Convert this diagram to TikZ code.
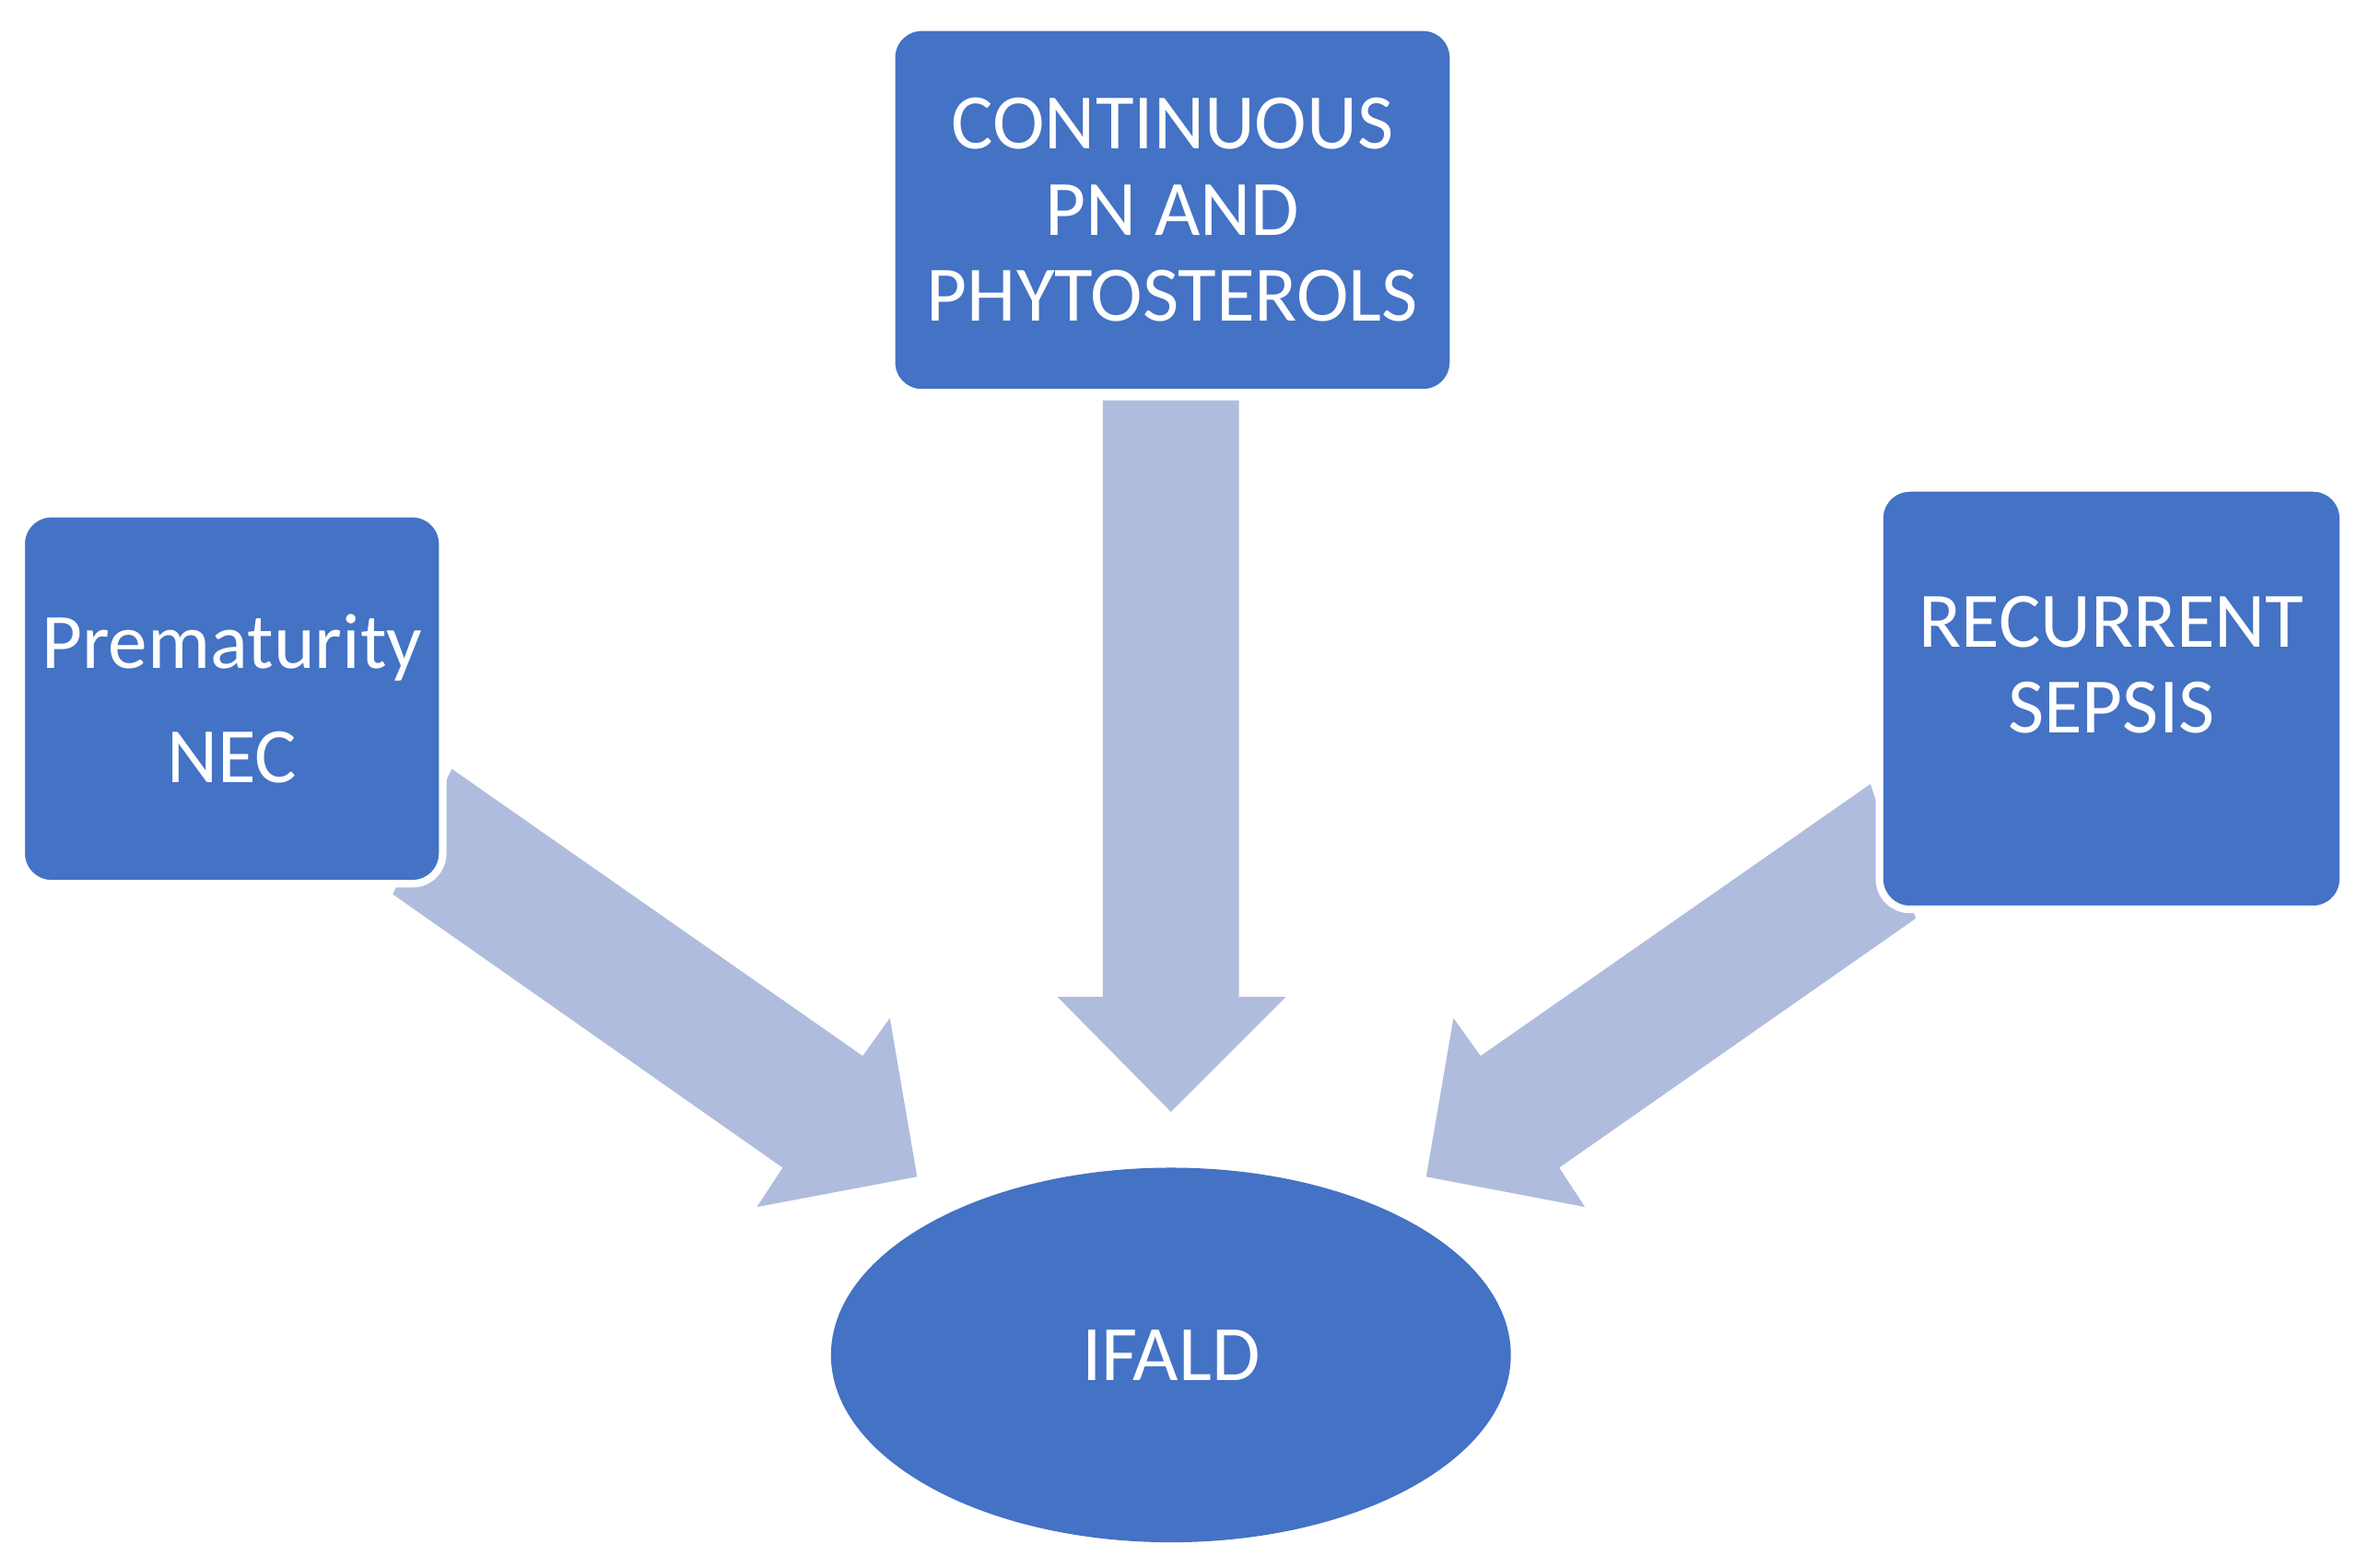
\documentclass[tikz,border=0pt]{standalone}
\usepackage{fontspec}
\setmainfont{Carlito}
\usetikzlibrary{shapes.geometric}
\definecolor{boxblue}{HTML}{4472C4}
\definecolor{arrowblue}{HTML}{B0BCDD}
\begin{document}
\begin{tikzpicture}[x=1pt,y=-1pt,
  box/.style={rectangle,rounded corners=20pt,fill=boxblue,draw=white,line width=5pt,text=white,align=center,font=\fontsize{52}{57}\selectfont},
  arr/.style={fill=arrowblue,draw=none}]
\useasboundingbox (0,0) rectangle (1568,1038);
% arrows
\fill[arr] (730,265) -- (820,265) -- (820,660) -- (851,660) -- (775,736) -- (700,660) -- (730,660) -- cycle;
\fill[arr] (299,509) -- (571,699) -- (589,674) -- (607,779) -- (501,799) -- (518,773) -- (260,592) -- cycle;
\fill[arr] (1238,519) -- (980,699) -- (962,674) -- (944,779) -- (1049,799) -- (1032,773) -- (1268,608) -- cycle;
% boxes
\node[box,minimum width=372pt,minimum height=242pt] (pn) at (776,139) {CONTINUOUS\\PN AND\\PHYTOSTEROLS};
\node[box,minimum width=279pt,minimum height=245pt,font=\fontsize{52}{76}\selectfont] (prem) at (153.5,462.5) {Prematurity\\NEC};
\node[box,minimum width=307pt,minimum height=279pt,text depth=45pt] (sep) at (1397.5,462.5) {RECURRENT\\SEPSIS};
\node[ellipse,fill=boxblue,minimum width=450pt,minimum height=248pt,text=white,font=\fontsize{52}{57}\selectfont,inner sep=0pt] (ifald) at (775,897) {IFALD};
\end{tikzpicture}
\end{document}
